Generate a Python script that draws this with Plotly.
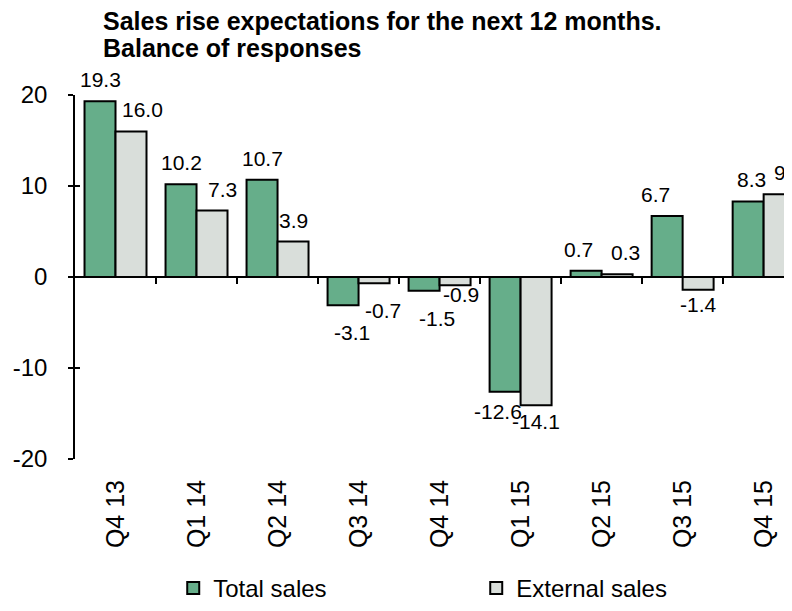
import plotly.graph_objects as go

categories = ["Q4 13", "Q1 14", "Q2 14", "Q3 14", "Q4 14", "Q1 15", "Q2 15", "Q3 15", "Q4 15"]
total_sales = [19.3, 10.2, 10.7, -3.1, -1.5, -12.6, 0.7, 6.7, 8.3]
external_sales = [16.0, 7.3, 3.9, -0.7, -0.9, -14.1, 0.3, -1.4, 9.1]
y_ticks = [-20, -10, 0, 10, 20]
title_lines = ["Sales rise expectations for the next 12 months.", "Balance of responses"]

FONT = "Liberation Sans, Arial, sans-serif"
GREEN = "#66AE8A"
GREY = "#D9DEDA"
LABEL_SIZE = 21

# styling: small label nudges (px) mimicking the original's label placement
label_nudge = {
    ("External sales", "Q4 13"): (11, 0),
    ("External sales", "Q1 14"): (10, 0),
    ("Total sales", "Q3 14"): (9, 0),
    ("External sales", "Q3 14"): (9, 0),
    ("Total sales", "Q4 14"): (13, 0),
    ("External sales", "Q4 14"): (6, 18),
    ("Total sales", "Q1 15"): (-7, 8),
    ("External sales", "Q1 15"): (0, 11),
    ("Total sales", "Q2 15"): (-8, 0),
    ("External sales", "Q2 15"): (8, 0),
    ("Total sales", "Q3 15"): (-12, 0),
    ("External sales", "Q3 15"): (0, 13),
    ("Total sales", "Q4 15"): (3, 0),
    ("External sales", "Q4 15"): (9, 0),
}

fig = go.Figure()
fig.add_trace(go.Bar(
    x=categories, y=total_sales, name="Total sales",
    marker=dict(color=GREEN, line=dict(color="black", width=2)),
))
fig.add_trace(go.Bar(
    x=categories, y=external_sales, name="External sales",
    marker=dict(color=GREY, line=dict(color="black", width=2)),
))
# invisible helper trace for the overlay axes (zero line with category-boundary ticks, inner y ticks)
fig.add_trace(go.Scatter(x=[-0.5, len(categories) - 0.5], y=[0, 0], xaxis="x2", yaxis="y2",
                         mode="lines", line=dict(width=0), hoverinfo="skip", showlegend=False))

# value labels above / below each bar
annotations = []
half_bar = 15.5
for name, series, dx in (("Total sales", total_sales, -half_bar), ("External sales", external_sales, half_bar)):
    for cat, v in zip(categories, series):
        pos = v >= 0
        ndx, ndy = label_nudge.get((name, cat), (0, 0))
        annotations.append(dict(
            x=cat, y=v, xref="x", yref="y", text=f"{v:.1f}", showarrow=False,
            xshift=dx + ndx, yshift=(9 if pos else -15) + ndy, yanchor="bottom" if pos else "top",
            font=dict(size=LABEL_SIZE, family=FONT, color="black"), borderpad=0,
        ))

# title lines
for i, line in enumerate(title_lines):
    annotations.append(dict(
        x=0.038, y=[1.203, 1.128][i], xref="paper", yref="paper", xanchor="left", yanchor="middle",
        text=f"<b>{line}</b>", showarrow=False, borderpad=0,
        font=dict(size=25, family=FONT, color="black"),
    ))

x_range = [-0.5, len(categories) - 0.65]

fig.update_layout(
    width=784, height=603,
    paper_bgcolor="white", plot_bgcolor="white",
    margin=dict(l=67, r=0, t=87, b=146),
    font=dict(family=FONT, color="black"),
    barmode="group", bargap=0.235, bargroupgap=0,
    annotations=annotations,
    xaxis=dict(
        type="category", categoryorder="array", categoryarray=categories,
        range=x_range, showline=False, ticks="", tickangle=-90,
        tickfont=dict(size=25, family=FONT), ticklabelstandoff=15,
        showgrid=False, zeroline=False, automargin=False,
    ),
    xaxis2=dict(
        overlaying="x", anchor="free", position=0.5, range=x_range,
        tickmode="array", tickvals=[i + 0.5 for i in range(len(categories))],
        showticklabels=False, ticks="outside", ticklen=6, tickwidth=1.5, tickcolor="black",
        showline=True, linecolor="black", linewidth=2, showgrid=False, zeroline=False,
        automargin=False,
    ),
    yaxis=dict(
        range=[-20, 20], tickmode="array", tickvals=y_ticks, ticktext=[str(t) for t in y_ticks],
        ticks="outside", ticklen=5, tickwidth=1.5, tickcolor="black",
        showline=True, linecolor="black", linewidth=1.5,
        showgrid=False, zeroline=False, automargin=False,
        tickfont=dict(size=24, family=FONT), ticklabelstandoff=16,
    ),
    yaxis2=dict(
        overlaying="y", anchor="x", range=[-20, 20], tickmode="array", tickvals=y_ticks,
        ticks="inside", ticklen=5, tickwidth=1.5, tickcolor="black",
        showticklabels=False, showline=False, showgrid=False, zeroline=False, automargin=False,
    ),
    legend=dict(
        orientation="h", x=0.137, xanchor="left", y=-0.357, yanchor="middle",
        font=dict(size=24, family=FONT), entrywidth=258, entrywidthmode="pixels",
        itemwidth=30,
    ),
)

fig.write_html("out.html")
